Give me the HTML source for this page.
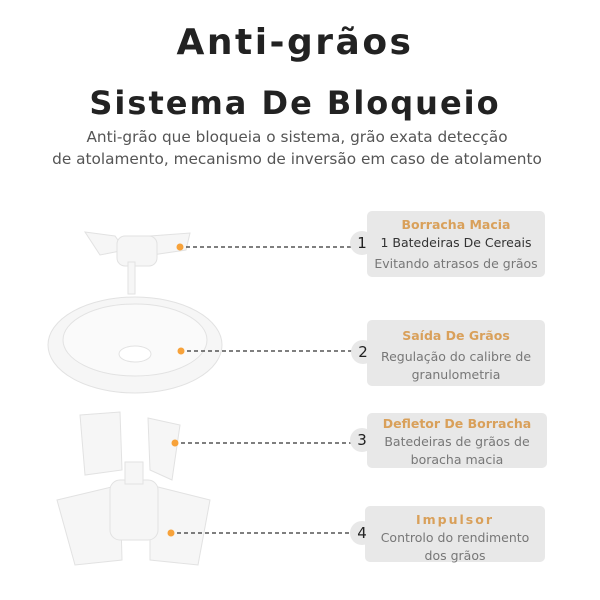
<!DOCTYPE html><html><head><style>
body{margin:0;width:600px;height:600px;background:#fff;font-family:"DejaVu Sans","Liberation Sans",sans-serif;position:relative;overflow:hidden}
.t{position:absolute;left:0;width:590px;text-align:center;font-weight:bold;color:#222}
.s{position:absolute;left:0;width:594px;text-align:center;color:#555;font-size:15.3px}
.box{position:absolute;background:#e8e8e8;border-radius:5px;text-align:center;font-size:12.5px;color:#777;line-height:18px}
.box b{color:#d9a05a;display:block}
.n{position:absolute;width:24px;height:24px;border-radius:12px;background:#e8e8e8;font-size:15px;color:#222;text-align:center;line-height:24px}
</style></head><body>
<div class="t" style="top:22px;font-size:36px;letter-spacing:2.5px">Anti-grãos</div>
<div class="t" style="top:84px;font-size:32px;letter-spacing:2px">Sistema De Bloqueio</div>
<div class="s" style="top:128px">Anti-grão que bloqueia o sistema, grão exata detecção</div>
<div class="s" style="top:150px">de atolamento, mecanismo de inversão em caso de atolamento</div>
<svg width="600" height="600" style="position:absolute;left:0;top:0">
<g fill="#f6f6f6" stroke="#e2e2e2">
<path d="M85 232 L115 236 L125 250 L100 255 Z"/><path d="M150 236 L190 233 L186 250 L152 255 Z"/>
<rect x="117" y="236" width="40" height="30" rx="8"/><rect x="128" y="262" width="7" height="32"/>
<ellipse cx="135" cy="345" rx="87" ry="48"/><ellipse cx="135" cy="340" rx="72" ry="36" fill="#fafafa"/>
<ellipse cx="135" cy="354" rx="16" ry="8" fill="#fff"/>
<path d="M80 415 L120 412 L122 470 L85 475 Z"/><path d="M148 418 L180 425 L172 480 L150 470 Z"/>
<path d="M57 500 L120 485 L122 560 L75 565 Z"/><path d="M150 485 L210 500 L198 565 L150 560 Z"/>
<rect x="110" y="480" width="48" height="60" rx="10"/><rect x="125" y="462" width="18" height="22"/>
</g>
<g fill="#f7a23a"><circle cx="180" cy="247" r="3.5"/><circle cx="181" cy="351" r="3.5"/><circle cx="175" cy="443" r="3.5"/><circle cx="171" cy="533" r="3.5"/></g>
<g stroke="#333" stroke-dasharray="4 3" stroke-width="1.2"><line x1="186" y1="247" x2="352" y2="247"/><line x1="187" y1="351" x2="352" y2="351"/><line x1="181" y1="443" x2="352" y2="443"/><line x1="177" y1="533" x2="352" y2="533"/></g>
</svg>
<div class="box" style="left:367px;top:211px;width:178px;height:66px"><b style="margin-top:5px">Borracha Macia</b><span style="color:#333">1 Batedeiras De Cereais</span><br><span style="line-height:24px">Evitando atrasos de grãos</span></div>
<div class="box" style="left:367px;top:320px;width:178px;height:66px"><b style="margin-top:7px;margin-bottom:3px">Saída De Grãos</b>Regulação do calibre de<br>granulometria</div>
<div class="box" style="left:367px;top:413px;width:180px;height:55px"><b style="margin-top:2px">Defletor De Borracha</b>Batedeiras de grãos de<br>boracha macia</div>
<div class="box" style="left:365px;top:506px;width:180px;height:56px"><b style="margin-top:5px;letter-spacing:2px">Impulsor</b>Controlo do rendimento<br>dos grãos</div>
<div class="n" style="left:350px;top:231px">1</div>
<div class="n" style="left:351px;top:340px">2</div>
<div class="n" style="left:350px;top:428px">3</div>
<div class="n" style="left:350px;top:521px">4</div>
</body></html>
